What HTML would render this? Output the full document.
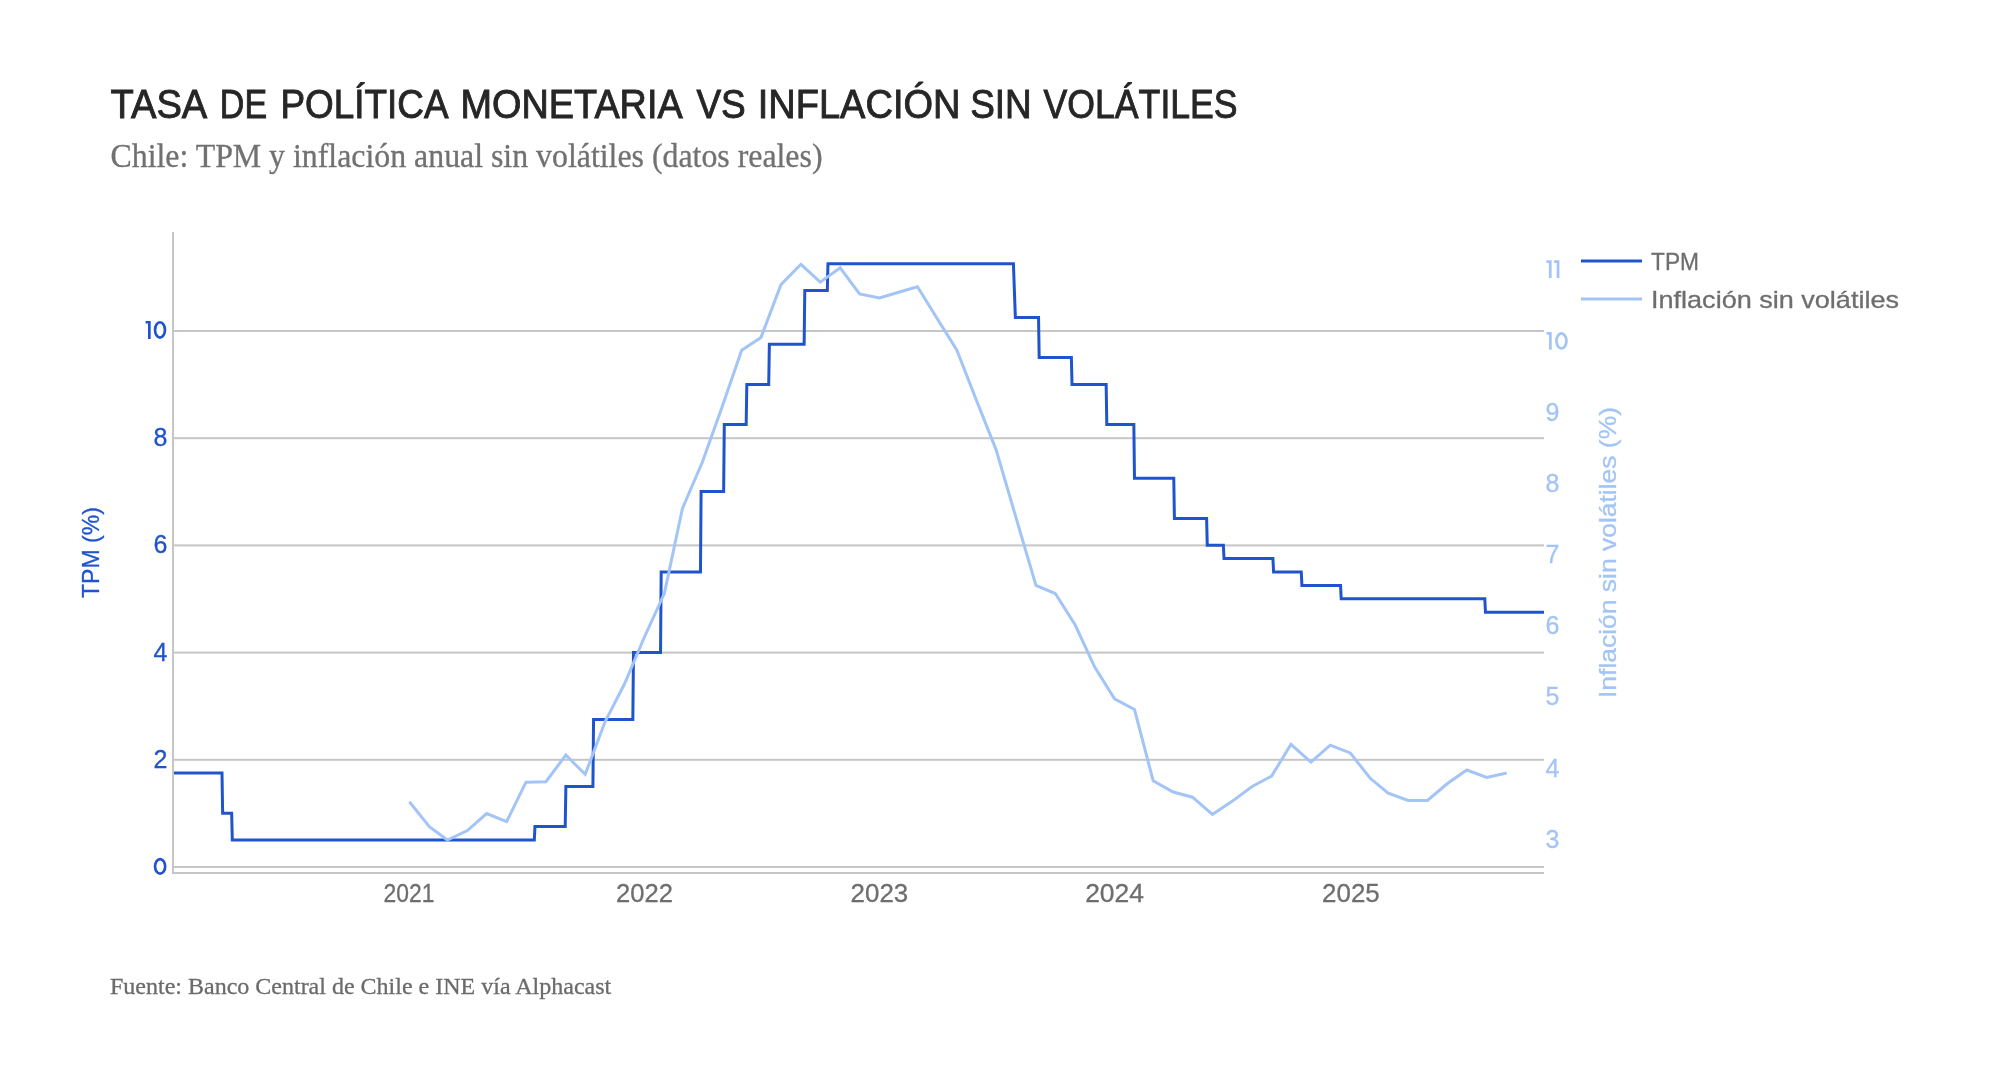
<!DOCTYPE html>
<html><head><meta charset="utf-8">
<style>
html,body{margin:0;padding:0;background:#fff;}
body{width:2006px;height:1080px;overflow:hidden;position:relative;}
svg{position:absolute;left:0;top:0;will-change:transform;}
</style></head>
<body>
<svg width="2006" height="1080" viewBox="0 0 2006 1080" font-family='"Liberation Sans", sans-serif'>
<style>.t{stroke-width:0.3;}</style>
<rect width="2006" height="1080" fill="#ffffff"/>
<text x="110.59" y="117.8" font-size="40" fill="#262626" stroke="#262626" stroke-width="0.9" textLength="96.71" lengthAdjust="spacingAndGlyphs">TASA</text>
<text x="219.85" y="117.8" font-size="40" fill="#262626" stroke="#262626" stroke-width="0.9" textLength="47.22" lengthAdjust="spacingAndGlyphs">DE</text>
<text x="280.46" y="117.8" font-size="40" fill="#262626" stroke="#262626" stroke-width="0.9" textLength="168.04" lengthAdjust="spacingAndGlyphs">POLÍTICA</text>
<text x="460.57" y="117.8" font-size="40" fill="#262626" stroke="#262626" stroke-width="0.9" textLength="222.13" lengthAdjust="spacingAndGlyphs">MONETARIA</text>
<text x="696.48" y="117.8" font-size="40" fill="#262626" stroke="#262626" stroke-width="0.9" textLength="49.27" lengthAdjust="spacingAndGlyphs">VS</text>
<text x="757.69" y="117.8" font-size="40" fill="#262626" stroke="#262626" stroke-width="0.9" textLength="202.78" lengthAdjust="spacingAndGlyphs">INFLACIÓN</text>
<text x="970.21" y="117.8" font-size="40" fill="#262626" stroke="#262626" stroke-width="0.9" textLength="61.56" lengthAdjust="spacingAndGlyphs">SIN</text>
<text x="1043.59" y="117.8" font-size="40" fill="#262626" stroke="#262626" stroke-width="0.9" textLength="194.03" lengthAdjust="spacingAndGlyphs">VOLÁTILES</text>

<text x="110.5" y="167" font-family='"Liberation Serif", serif' font-size="33" fill="#717171" stroke="#717171" stroke-width="0.3" textLength="712" lengthAdjust="spacingAndGlyphs">Chile: TPM y inflación anual sin volátiles (datos reales)</text>
<rect x="174" y="866.00" width="1370" height="2" fill="#c6c6c6"/>
<rect x="174" y="758.80" width="1370" height="2" fill="#c6c6c6"/>
<rect x="174" y="651.60" width="1370" height="2" fill="#c6c6c6"/>
<rect x="174" y="544.40" width="1370" height="2" fill="#c6c6c6"/>
<rect x="174" y="437.20" width="1370" height="2" fill="#c6c6c6"/>
<rect x="174" y="330.00" width="1370" height="2" fill="#c6c6c6"/>

<rect x="172" y="232" width="2" height="642" fill="#c6c6c6"/>
<rect x="172" y="872" width="1372" height="2" fill="#c6c6c6"/>
<ellipse cx="160.10" cy="866.40" rx="5.05" ry="7.25" fill="none" stroke="#2054cd" stroke-width="2.7"/>
<text x="167.3" y="767.8" text-anchor="end" font-size="25" fill="#2054cd" stroke="#2054cd" stroke-width="0.3">2</text>
<text x="167.3" y="660.6" text-anchor="end" font-size="25" fill="#2054cd" stroke="#2054cd" stroke-width="0.3">4</text>
<text x="167.3" y="553.4" text-anchor="end" font-size="25" fill="#2054cd" stroke="#2054cd" stroke-width="0.3">6</text>
<text x="167.3" y="446.2" text-anchor="end" font-size="25" fill="#2054cd" stroke="#2054cd" stroke-width="0.3">8</text>
<path d="M145.60,320.90 L150.70,320.90 L150.70,338.90 L148.00,338.90 L148.00,323.60 L145.60,323.60 Z" fill="#2054cd"/>
<ellipse cx="160.00" cy="329.90" rx="4.95" ry="7.65" fill="none" stroke="#2054cd" stroke-width="2.7"/>

<text x="1545.5" y="847.6" font-size="25" fill="#a3c4f6" stroke="#a3c4f6" stroke-width="0.3">3</text>
<text x="1545.5" y="776.5" font-size="25" fill="#a3c4f6" stroke="#a3c4f6" stroke-width="0.3">4</text>
<text x="1545.5" y="705.4" font-size="25" fill="#a3c4f6" stroke="#a3c4f6" stroke-width="0.3">5</text>
<text x="1545.5" y="634.3" font-size="25" fill="#a3c4f6" stroke="#a3c4f6" stroke-width="0.3">6</text>
<text x="1545.5" y="563.2" font-size="25" fill="#a3c4f6" stroke="#a3c4f6" stroke-width="0.3">7</text>
<text x="1545.5" y="492.1" font-size="25" fill="#a3c4f6" stroke="#a3c4f6" stroke-width="0.3">8</text>
<text x="1545.5" y="421.0" font-size="25" fill="#a3c4f6" stroke="#a3c4f6" stroke-width="0.3">9</text>
<path d="M1546.60,332.10 L1551.70,332.10 L1551.70,349.80 L1549.00,349.80 L1549.00,334.80 L1546.60,334.80 Z" fill="#a3c4f6"/>
<ellipse cx="1561.45" cy="340.95" rx="5.00" ry="7.50" fill="none" stroke="#a3c4f6" stroke-width="2.7"/>
<path d="M1546.40,260.20 L1551.60,260.20 L1551.60,278.10 L1548.90,278.10 L1548.90,262.90 L1546.40,262.90 Z" fill="#a3c4f6"/>
<path d="M1554.10,260.20 L1559.40,260.20 L1559.40,278.10 L1556.70,278.10 L1556.70,262.90 L1554.10,262.90 Z" fill="#a3c4f6"/>

<text x="383.47" y="902" font-size="25" fill="#6e6e6e" stroke="#6e6e6e" stroke-width="0.3" textLength="50.98" lengthAdjust="spacingAndGlyphs">2021</text>
<text x="616.07" y="902" font-size="25" fill="#6e6e6e" stroke="#6e6e6e" stroke-width="0.3" textLength="56.87" lengthAdjust="spacingAndGlyphs">2022</text>
<text x="850.57" y="902" font-size="25" fill="#6e6e6e" stroke="#6e6e6e" stroke-width="0.3" textLength="57.66" lengthAdjust="spacingAndGlyphs">2023</text>
<text x="1085.16" y="902" font-size="25" fill="#6e6e6e" stroke="#6e6e6e" stroke-width="0.3" textLength="58.87" lengthAdjust="spacingAndGlyphs">2024</text>
<text x="1322.07" y="902" font-size="25" fill="#6e6e6e" stroke="#6e6e6e" stroke-width="0.3" textLength="57.66" lengthAdjust="spacingAndGlyphs">2025</text>

<text transform="translate(99,552.5) rotate(-90)" text-anchor="middle" font-size="24" fill="#2054cd" stroke="#2054cd" stroke-width="0.3" textLength="91" lengthAdjust="spacingAndGlyphs">TPM (%)</text>
<text transform="translate(1616.4,552.5) rotate(-90)" text-anchor="middle" font-size="24" fill="#a3c4f6" stroke="#a3c4f6" stroke-width="0.3" textLength="291" lengthAdjust="spacingAndGlyphs">Inflación sin volátiles (%)</text>
<path d="M174.00,773.00 L222.00,773.00 L222.64,813.20 L231.66,813.20 L232.30,840.00 L534.32,840.00 L534.96,826.60 L565.23,826.60 L565.87,786.40 L592.92,786.40 L593.56,719.40 L632.84,719.40 L633.49,652.40 L660.53,652.40 L661.18,572.00 L700.46,572.00 L701.10,491.60 L723.64,491.60 L724.29,424.60 L746.18,424.60 L746.82,384.40 L768.72,384.40 L769.36,344.20 L804.14,344.20 L804.78,290.60 L827.32,290.60 L827.96,263.80 L1013.42,263.80 L1015.36,317.40 L1038.54,317.40 L1039.18,357.60 L1071.38,357.60 L1072.02,384.40 L1106.15,384.40 L1106.80,424.60 L1133.84,424.60 L1134.49,478.20 L1173.77,478.20 L1174.41,518.40 L1206.61,518.40 L1207.26,545.20 L1223.35,545.20 L1224.00,558.60 L1272.94,558.60 L1273.58,572.00 L1301.27,572.00 L1301.92,585.40 L1340.56,585.40 L1341.20,598.80 L1484.80,598.80 L1485.45,612.20 L1544.00,612.20" fill="none" stroke="#2054cd" stroke-width="3" stroke-linejoin="miter"/>
<path d="M409.39,801.70 L429.35,826.70 L447.38,840.00 L467.35,830.60 L486.66,813.60 L506.63,821.70 L525.95,782.20 L545.91,781.70 L565.87,755.00 L585.19,774.40 L605.15,721.50 L624.47,684.00 L644.43,637.00 L664.40,593.30 L682.43,508.50 L702.39,462.00 L721.71,408.00 L741.67,350.20 L760.99,337.40 L780.95,284.60 L800.92,264.30 L820.24,282.10 L840.20,267.80 L859.52,293.90 L879.48,298.00 L899.44,292.00 L917.47,286.80 L937.44,319.00 L956.76,350.00 L976.72,401.00 L996.04,449.60 L1016.00,517.60 L1035.96,585.50 L1055.28,593.50 L1075.24,625.00 L1094.56,666.90 L1114.53,698.90 L1134.49,709.50 L1153.16,780.70 L1173.13,792.00 L1192.44,797.20 L1212.41,814.40 L1231.73,801.60 L1251.69,786.70 L1271.65,776.10 L1290.97,744.30 L1310.93,762.10 L1330.25,745.20 L1350.21,752.90 L1370.18,778.30 L1388.21,793.10 L1408.17,800.50 L1427.49,800.40 L1447.45,783.50 L1466.77,770.00 L1486.73,777.40 L1506.70,773.00" fill="none" stroke="#a3c4f6" stroke-width="3" stroke-linejoin="miter"/>
<rect x="1581" y="259.5" width="61" height="3" fill="#2054cd"/>
<rect x="1581" y="297.5" width="61" height="3" fill="#a3c4f6"/>
<text x="1651" y="270" font-size="24" fill="#6e6e6e" stroke="#6e6e6e" stroke-width="0.3" textLength="48" lengthAdjust="spacingAndGlyphs">TPM</text>
<text x="1651" y="308" font-size="24" fill="#6e6e6e" stroke="#6e6e6e" stroke-width="0.3" textLength="248" lengthAdjust="spacingAndGlyphs">Inflación sin volátiles</text>
<text x="110" y="994" font-family='"Liberation Serif", serif' font-size="24" fill="#6b6b6b" stroke="#6b6b6b" stroke-width="0.3">Fuente: Banco Central de Chile e INE vía Alphacast</text>
</svg>
</body></html>
